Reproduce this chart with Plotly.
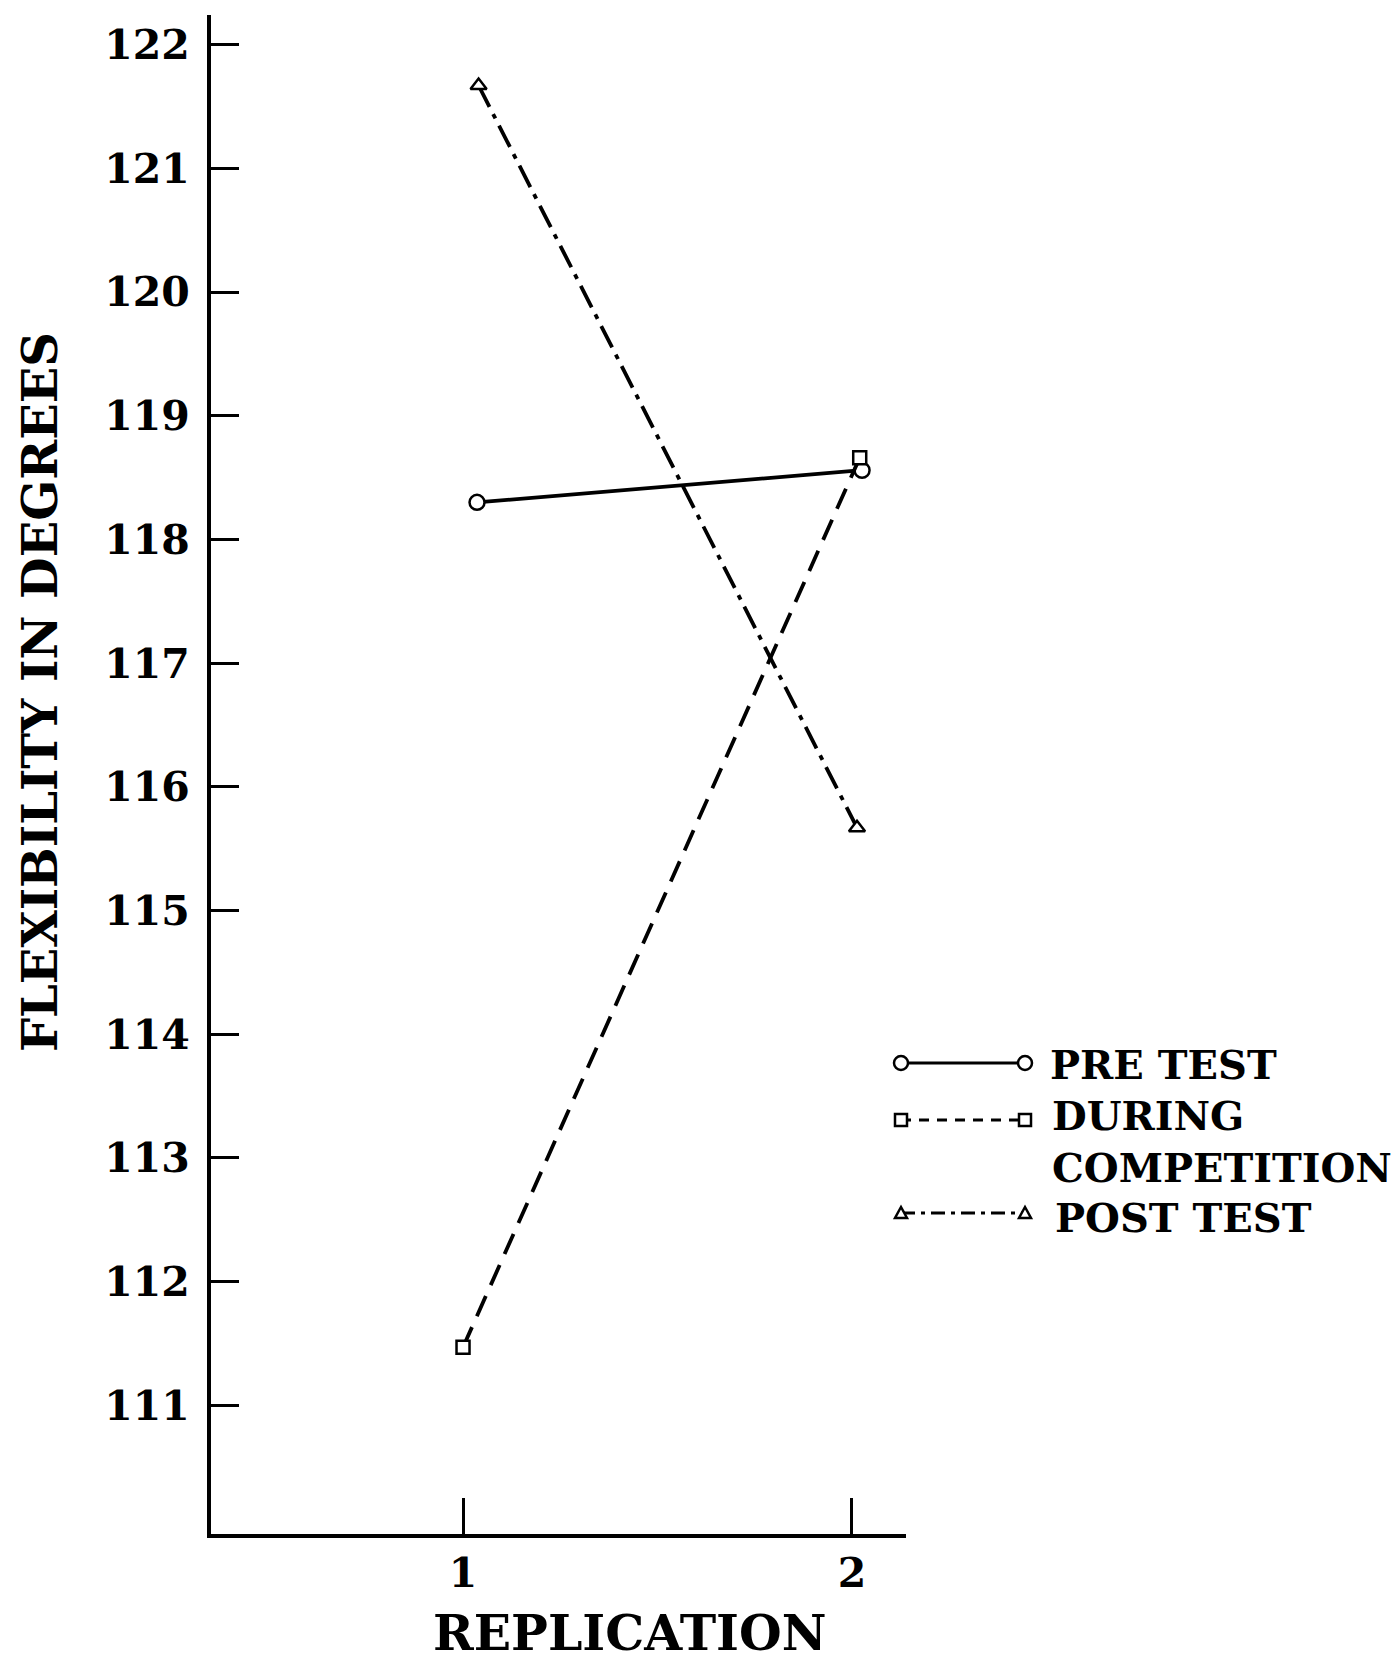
import plotly.graph_objects as go

# ---- data ----
series_names = ["PRE TEST", "DURING COMPETITION", "POST TEST"]
pre_x = [1.036, 2.026]
pre_y = [118.30, 118.56]
during_x = [1.00, 2.02]
during_y = [111.47, 118.66]
post_x = [1.04, 2.013]
post_y = [121.67, 115.67]
y_ticks = [111, 112, 113, 114, 115, 116, 117, 118, 119, 120, 121, 122]
x_ticks = [1, 2]
x_title = "REPLICATION"
y_title = "FLEXIBILITY IN DEGREES"

# ---- layout geometry (page pixels) ----
PAGE_W, PAGE_H = 1400, 1666
OFF = 8                      # default body margin of the html page
FIG_W, FIG_H = PAGE_W - OFF, PAGE_H - OFF
L, R, T, B = 211, 906, 15, 1534
W, H = R - L, B - T

def px(x):
    return (x - L) / W

def py(y):
    return (B - y) / H

FONT = "DejaVu Serif"
fig = go.Figure()

styles = [
    dict(dash="solid", symbol="circle", size=15, leg_dash="solid"),
    dict(dash="22px,12px", symbol="square", size=13, leg_dash="10px,8px"),
    dict(dash="24px,8px,5px,8px", symbol="triangle-up", size=14, leg_dash="14px,6px,4px,6px"),
]
for name, xs, ys, st in zip(series_names, [pre_x, during_x, post_x],
                            [pre_y, during_y, post_y], styles):
    fig.add_trace(go.Scatter(
        x=xs, y=ys, name=name, mode="lines+markers",
        line=dict(color="black", width=3.8, dash=st["dash"]),
        marker=dict(symbol=st["symbol"], size=st["size"], color="white",
                    line=dict(color="black", width=2.5)),
        showlegend=False,
    ))

# ---- hand-drawn style legend ----
shapes = []
annotations = []
leg_x0, leg_x1 = 901, 1025
leg_rows = [1063, 1120, 1213]
for row, st in zip(leg_rows, styles):
    shapes.append(dict(type="line", xref="paper", yref="paper",
                       x0=px(leg_x0), x1=px(leg_x1), y0=py(row), y1=py(row),
                       line=dict(color="black", width=3, dash=st["leg_dash"])))
    for cx in (leg_x0, leg_x1):
        if st["symbol"] == "circle":
            r = 7
            shapes.append(dict(type="circle", xref="paper", yref="paper",
                               x0=px(cx - r), x1=px(cx + r), y0=py(row + r), y1=py(row - r),
                               fillcolor="white", line=dict(color="black", width=2.5)))
        elif st["symbol"] == "square":
            r = 6
            shapes.append(dict(type="rect", xref="paper", yref="paper",
                               x0=px(cx - r), x1=px(cx + r), y0=py(row + r), y1=py(row - r),
                               fillcolor="white", line=dict(color="black", width=2.5)))
        else:
            r = 6
            path = "M {a},{b} L {c},{d} L {e},{f} Z".format(
                a=px(cx - r), b=py(row + 5), c=px(cx + r), d=py(row + 5),
                e=px(cx), f=py(row - 6))
            shapes.append(dict(type="path", xref="paper", yref="paper", path=path,
                               fillcolor="white", line=dict(color="black", width=2.5)))

leg_font = dict(family=FONT, size=40, color="black", weight="bold")
for text, xx, yy in [("PRE TEST", 1048, 1064),
                     ("DURING<br>COMPETITION", 1050, 1141),
                     ("POST TEST", 1053, 1217)]:
    annotations.append(dict(text=text, xref="paper", yref="paper", x=px(xx), y=py(yy),
                            xanchor="left", yanchor="middle", align="left",
                            showarrow=False, font=leg_font))

# axis titles as annotations for precise placement
annotations.append(dict(text=x_title, xref="paper", yref="paper", x=px(629), y=py(1633),
                        xanchor="center", yanchor="middle", showarrow=False,
                        font=dict(family=FONT, size=49, color="black", weight="bold")))
annotations.append(dict(text=y_title, xref="paper", yref="paper", x=px(40), y=py(692),
                        xanchor="center", yanchor="middle", showarrow=False, textangle=-90,
                        font=dict(family=FONT, size=48, color="black", weight="bold")))

tick_font = dict(family=FONT, size=41, color="black", weight="bold")
fig.update_layout(
    width=FIG_W, height=FIG_H,
    margin=dict(l=L - OFF, r=PAGE_W - R, t=T - OFF, b=PAGE_H - B, pad=0),
    paper_bgcolor="white", plot_bgcolor="white",
    shapes=shapes, annotations=annotations,
    xaxis=dict(range=[0.352, 2.139], tickvals=x_ticks, ticktext=[str(v) for v in x_ticks],
               ticks="inside", ticklen=36, tickwidth=3, tickcolor="black",
               showline=True, linewidth=4, linecolor="black",
               showgrid=False, zeroline=False, tickfont=tick_font,
               ticklabelstandoff=0),
    yaxis=dict(range=[109.96, 122.24], tickvals=y_ticks, ticktext=[str(v) for v in y_ticks],
               ticks="inside", ticklen=28, tickwidth=2.5, tickcolor="black",
               showline=True, linewidth=4, linecolor="black",
               showgrid=False, zeroline=False, tickfont=tick_font,
               ticklabelstandoff=9),
    showlegend=False,
)

fig.write_html("out.html")
